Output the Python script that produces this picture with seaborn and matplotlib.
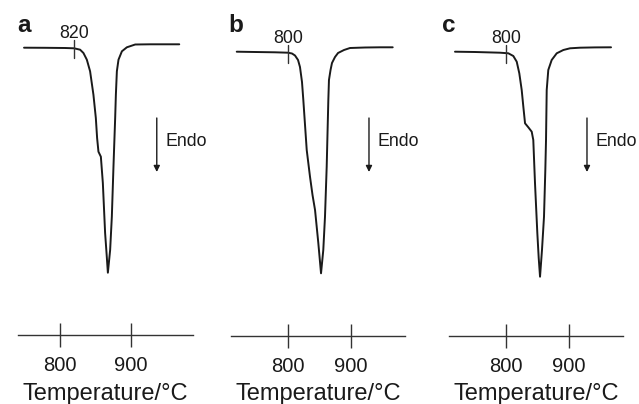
import numpy as np
import pandas as pd
import matplotlib
matplotlib.use("Agg")
import matplotlib.pyplot as plt
import seaborn as sns

# ---------------- data (arbitrary DTA units) ----------------
temp_a = [749.1, 778.8, 807.0, 819.8, 828.3, 833.0, 837.8, 842.4, 847.1, 850.5, 852.3,
          854.2, 857.6, 860.4, 863.6, 865.8, 867.5, 870.7, 873.1, 875.4, 877.8, 878.8,
          880.2, 882.5, 887.3, 894.3, 906.1, 927.3, 948.5, 968.3]
signal_a = [287.3, 287.2, 287.0, 286.7, 285.3, 282.0, 275.3, 263.7, 240.3, 217.0, 197.0,
            183.3, 178.3, 152.0, 102.0, 80.0, 62.3, 85.0, 118.3, 168.3, 217.0, 240.3,
            263.7, 275.3, 283.7, 287.7, 290.5, 290.7, 290.7, 290.7]

temp_b = [718.6, 747.6, 779.4, 800.0, 806.3, 811.1, 815.9, 819.0, 822.2, 824.3, 827.0,
          829.7, 834.9, 838.9, 842.9, 848.1, 852.4, 856.0, 858.7, 861.4, 864.0, 865.0,
          867.5, 869.8, 874.6, 879.4, 888.9, 898.4, 922.2, 946.0, 966.2]
signal_b = [284.3, 284.0, 283.7, 283.3, 282.5, 280.5, 276.0, 269.0, 254.0, 236.0, 211.0,
            186.0, 159.3, 141.0, 126.0, 93.0, 62.7, 86.0, 119.3, 169.3, 236.0, 256.0,
            266.0, 273.0, 279.0, 283.0, 286.0, 288.0, 288.5, 288.7, 288.7]

temp_c = [719.0, 750.8, 790.5, 803.7, 811.6, 817.0, 821.1, 824.9, 827.5, 830.2, 835.4,
          840.8, 843.3, 846.0, 849.7, 851.9, 854.0, 857.1, 860.3, 862.4, 863.5, 864.6,
          867.1, 872.5, 880.5, 891.0, 901.6, 917.5, 941.3, 966.7]
signal_c = [284.3, 284.0, 283.3, 282.7, 280.0, 274.3, 262.7, 246.0, 229.3, 212.7, 208.7,
            204.3, 196.0, 153.0, 103.0, 78.0, 59.3, 86.0, 119.3, 166.0, 196.0, 246.0,
            266.0, 276.0, 282.7, 286.0, 287.7, 288.3, 288.6, 288.7]

panel_letters = ["a", "b", "c"]
onset_temps = [820, 800, 800]
onset_labels = ["820", "800", "800"]
tick_values = [800, 900]
tick_labels = ["800", "900"]
x_label = "Temperature/°C"
endo_label = "Endo"
x_limits = [(740.6, 987.7), (709.5, 985.7), (709.5, 985.7)]

# ---------------- style ----------------
sns.set_theme(style="white")
plt.rcParams["font.family"] = ["Liberation Sans", "DejaVu Sans"]
ink = "#1a1a1a"

fig = plt.figure(figsize=(6.39, 4.04), dpi=100)

W, H = 639.0, 404.0
# axes boxes in pixels: (left, right, y of axis line)
boxes = [(18, 193, 335), (231, 405, 336), (449, 623, 336)]
letter_x = [17, 228, 441.7]

series = [(temp_a, signal_a), (temp_b, signal_b), (temp_c, signal_c)]

for i, ((t, s), (l, r, yb)) in enumerate(zip(series, boxes)):
    ax = fig.add_axes([l / W, (H - yb) / H, (r - l) / W, yb / H])
    df = pd.DataFrame({"Temperature": t, "Signal": s})
    sns.lineplot(data=df, x="Temperature", y="Signal", ax=ax, color=ink,
                 lw=1.4, sort=False, estimator=None)
    ax.set_xlim(*x_limits[i])
    ax.set_ylim(0, yb)
    for sp in ["left", "right", "top"]:
        ax.spines[sp].set_visible(False)
    ax.spines["bottom"].set_color("#333333")
    ax.spines["bottom"].set_linewidth(1.0)
    ax.set_yticks([])
    ax.set_ylabel("")
    ax.set_xticks(tick_values)
    ax.set_xticklabels(tick_labels)
    ax.tick_params(axis="x", direction="inout", length=16.8, width=1.0,
                   color="#333333", pad=6.5, labelsize=14.5, labelcolor=ink,
                   bottom=True)
    ax.set_xlabel(x_label, fontsize=17, color=ink)
    ax.xaxis.set_label_coords(0.5, (yb - 400.0) / yb)
    ax.xaxis.label.set_va("baseline")

    # onset marker
    h0 = np.interp(onset_temps[i], t, s)
    ax.plot([onset_temps[i], onset_temps[i]], [h0 - 10, h0 + 8], color="#333333",
            lw=1.0, clip_on=False)
    ax.text(onset_temps[i], h0 + 10, onset_labels[i], ha="center", va="baseline",
            fontsize=12.8, color=ink)

    # Endo arrow
    ax.annotate("", xy=(0.793, (yb - 172) / yb), xytext=(0.793, (yb - 118) / yb),
                xycoords="axes fraction", textcoords="axes fraction",
                arrowprops=dict(arrowstyle="-|>", lw=1.0, color=ink,
                                mutation_scale=9, shrinkA=0, shrinkB=0))
    ax.text(0.84, (yb - 145.7) / yb, endo_label, transform=ax.transAxes,
            ha="left", va="baseline", fontsize=12.8, color=ink)

    fig.text(letter_x[i] / W, (H - 32) / H, panel_letters[i], ha="left",
             va="baseline", fontsize=17.5, fontweight="bold", color=ink)

fig.savefig("out.png", dpi=100)
